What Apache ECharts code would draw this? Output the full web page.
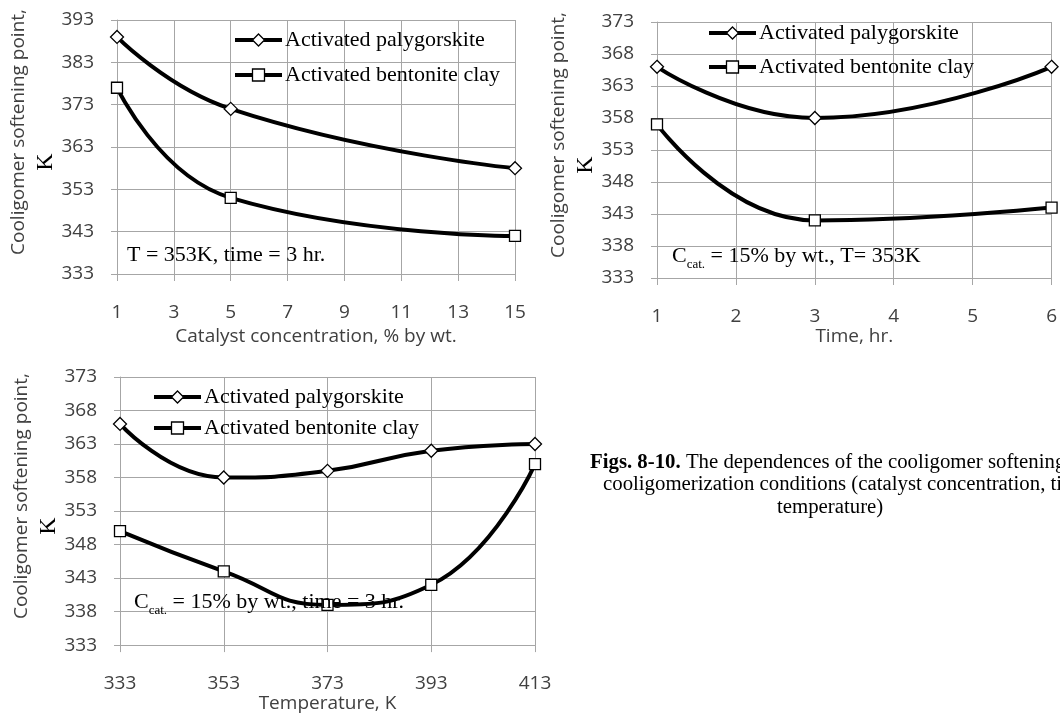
<!DOCTYPE html>
<html>
<head>
<meta charset="utf-8">
<script src="https://cdn.jsdelivr.net/npm/echarts@6/dist/echarts.min.js"></script>
<style>
  html, body { margin: 0; padding: 0; background: #fff; }
  #main { width: 1060px; height: 714px; }
</style>
</head>
<body>
<div id="main"></div>
<script>
// Fig. 8: softening point vs catalyst concentration
const concX = [1, 5, 15];
const palyConc = [389, 372, 358];
const bentConc = [377, 351, 342];
const concAxis = [1, 15, 2];      // min, max, step
const concY = [333, 393, 10];

// Fig. 9: softening point vs time
const timeX = [1, 3, 6];
const palyTime = [366, 358, 366];
const bentTime = [357, 342, 344];
const timeAxis = [1, 6, 1];
const timeY = [333, 373, 5];

// Fig. 10: softening point vs temperature
const tempX = [333, 353, 373, 393, 413];
const palyTemp = [366, 358, 359, 362, 363];
const bentTemp = [350, 344, 339, 342, 360];
const tempAxis = [333, 413, 20];
const tempY = [333, 373, 5];

const seriesNames = ["Activated palygorskite", "Activated bentonite clay"];

const SANS = '"Open Sans"';
const SERIF = '"Liberation Serif"';
const GRID_COLOR = "#a6a6a6";
const LABEL_COLOR = "#404040";

function pairs(xs, ys) {
  return xs.map((x, i) => [x, ys[i]]);
}

function xAxisOf(idx, range, name, gap) {
  return {
    type: "value",
    gridIndex: idx,
    min: range[0],
    max: range[1],
    interval: range[2],
    name: name,
    nameLocation: "middle",
    nameGap: gap,
    nameTextStyle: { fontFamily: SANS, fontSize: 19, color: LABEL_COLOR },
    axisLine: { show: true, lineStyle: { color: GRID_COLOR, width: 1 } },
    axisTick: { show: true, inside: false, length: 7, lineStyle: { color: GRID_COLOR } },
    axisLabel: { fontFamily: SANS, fontSize: 19, color: LABEL_COLOR, margin: 29 },
    splitLine: { show: true, lineStyle: { color: GRID_COLOR, width: 1 } },
  };
}

function yAxisOf(idx, range) {
  return {
    type: "value",
    gridIndex: idx,
    min: range[0],
    max: range[1],
    interval: range[2],
    name: "{a|Cooligomer softening point,}\n{b|K}",
    nameLocation: "middle",
    nameGap: 56,
    nameTextStyle: {
      rich: {
        a: { fontFamily: SANS, fontSize: 19, color: LABEL_COLOR, lineHeight: 27, padding: [0, 0, 0, 30] },
        b: { fontFamily: SERIF, fontSize: 24, color: "#000", lineHeight: 27, padding: [0, 30, 0, 0] },
      },
    },
    axisLine: { show: true, lineStyle: { color: GRID_COLOR, width: 1 } },
    axisTick: { show: true, inside: false, length: 6, lineStyle: { color: GRID_COLOR } },
    axisLabel: { fontFamily: SANS, fontSize: 19, color: LABEL_COLOR, margin: 23 },
    splitLine: { show: true, lineStyle: { color: GRID_COLOR, width: 1 } },
  };
}

function lineSeries(name, symbol, size, idx, data) {
  return {
    name: name,
    type: "line",
    xAxisIndex: idx,
    yAxisIndex: idx,
    smooth: 0.5,
    symbol: symbol,
    symbolSize: size,
    showAllSymbol: true,
    lineStyle: { color: "#000", width: 4 },
    itemStyle: { color: "#fff", borderColor: "#000", borderWidth: 1.3 },
    z: symbol === "diamond" ? 3 : 2,
    data: data,
  };
}

function legendOf(left, top, gap) {
  return {
    data: seriesNames,
    orient: "vertical",
    left: left,
    top: top,
    padding: 0,
    itemGap: gap,
    itemWidth: 47,
    itemHeight: 15,
    selectedMode: false,
    lineStyle: { color: "#000", width: 4 },
    itemStyle: { color: "#fff", borderColor: "#000", borderWidth: 1.3 },
    textStyle: { fontFamily: SERIF, fontSize: 22, color: "#000", padding: [0, 0, 0, -2] },
  };
}

const subRich = {
  c: { fontFamily: SERIF, fontSize: 22, color: "#000", lineHeight: 26, verticalAlign: "top" },
  s: { fontFamily: SERIF, fontSize: 13, color: "#000", lineHeight: 12, verticalAlign: "bottom" },
};

function note(x, y, text) {
  return {
    type: "text",
    x: x,
    y: y,
    z: 10,
    style: {
      text: text,
      rich: subRich,
      fill: "#000",
      align: "left",
      verticalAlign: "middle",
      textAlign: "left",
      textVerticalAlign: "middle",
    },
  };
}

const captionRich = {
  b: { fontFamily: SERIF, fontSize: 20.8, fontWeight: "bold", color: "#000" },
  n: { fontFamily: SERIF, fontSize: 20.8, color: "#000" },
};

function caption(x, y, text) {
  return {
    type: "text",
    x: x,
    y: y,
    style: {
      text: text,
      rich: captionRich,
      fill: "#000",
      align: "left",
      verticalAlign: "middle",
      textAlign: "left",
      textVerticalAlign: "middle",
    },
  };
}

const chart = echarts.init(document.getElementById("main"), null, { renderer: "canvas" });

chart.setOption({
  animation: false,
  backgroundColor: "#fff",
  grid: [
    { left: 117, top: 20, width: 398, height: 254 },
    { left: 657, top: 22, width: 398, height: 256 },
    { left: 120, top: 377, width: 415, height: 270 },
  ],
  xAxis: [
    xAxisOf(0, concAxis, "Catalyst concentration, % by wt.", 53),
    xAxisOf(1, timeAxis, "Time, hr.", 49),
    xAxisOf(2, tempAxis, "Temperature, K", 45),
  ],
  yAxis: [yAxisOf(0, concY), yAxisOf(1, timeY), yAxisOf(2, tempY)],
  legend: [legendOf(233, 29, 13), legendOf(707, 22, 12), legendOf(152, 386, 9)],
  series: [
    lineSeries(seriesNames[0], "diamond", 13, 0, pairs(concX, palyConc)),
    lineSeries(seriesNames[1], "rect", 11, 0, pairs(concX, bentConc)),
    lineSeries(seriesNames[0], "diamond", 13, 1, pairs(timeX, palyTime)),
    lineSeries(seriesNames[1], "rect", 11, 1, pairs(timeX, bentTime)),
    lineSeries(seriesNames[0], "diamond", 13, 2, pairs(tempX, palyTemp)),
    lineSeries(seriesNames[1], "rect", 11, 2, pairs(tempX, bentTemp)),
  ],
  graphic: [
    note(127, 257, "{c|T = 353K, time = 3 hr.}"),
    note(672, 258, "{c|C}{s|cat.}{c| = 15% by wt., T= 353K}"),
    note(134, 604, "{c|C}{s|cat.}{c| = 15% by wt., time = 3 hr.}"),
    caption(590, 463, "{b|Figs. 8-10.}{n| The dependences of the cooligomer softening}"),
    caption(603, 485, "{n|cooligomerization conditions (catalyst concentration, time,}"),
    caption(777, 508, "{n|temperature)}"),
  ],
});
</script>
</body>
</html>
